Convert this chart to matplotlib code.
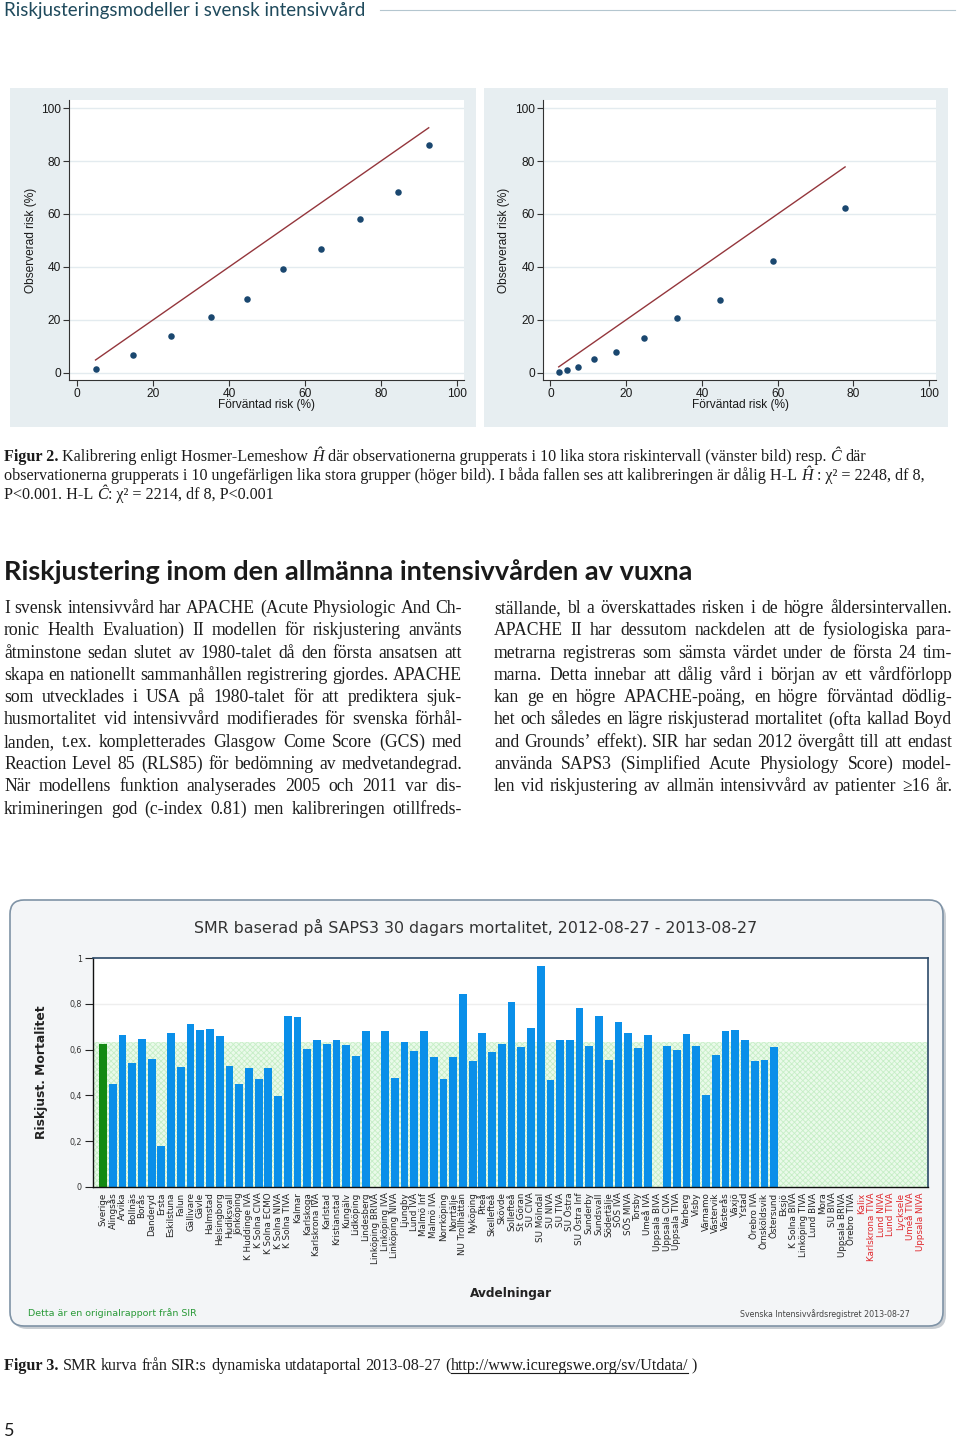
import matplotlib
matplotlib.use('Agg')
import matplotlib.pyplot as plt
from matplotlib.patches import FancyBboxPatch, Rectangle
import numpy as np

# ---------------- data ----------------
left_expected = [4.8, 14.7, 24.7, 35.3, 44.8, 54.1, 64.1, 74.6, 84.4, 92.6]
left_observed = [1.3, 6.6, 13.9, 21.1, 27.7, 39.1, 46.7, 58.1, 68.5, 85.9]
right_expected = [2.2, 4.4, 7.2, 11.5, 17.3, 24.7, 33.4, 44.7, 58.7, 77.8]
right_observed = [0.25, 0.9, 2.0, 5.0, 7.9, 13.1, 20.8, 27.5, 42.2, 62.3]
risk_ticks = [0, 20, 40, 60, 80, 100]

units = ["Sverige", "Alingsås", "Arvika", "Bollnäs", "Borås", "Danderyd", "Ersta",
         "Eskilstuna", "Falun", "Gällivare", "Gävle", "Halmstad", "Helsingborg",
         "Hudiksvall", "Jönköping", "K Huddinge IVA", "K Solna CIVA", "K Solna ECMO",
         "K Solna NIVA", "K Solna TIVA", "Kalmar", "Karlskoga", "Karlskrona IVA",
         "Karlstad", "Kristianstad", "Kungälv", "Lidköping", "Lindesberg",
         "Linköping BRIVA", "Linköping IVA", "Linköping NIVA", "Ljungby", "Lund IVA",
         "Malmö Inf", "Malmö IVA", "Norrköping", "Norrtälje", "NU Trollhättan",
         "Nyköping", "Piteå", "Skellefteå", "Skövde", "Sollefteå", "St Göran",
         "SU CIVA", "SU Mölndal", "SU NIVA", "SU TIVA", "SU Östra", "SU Östra Inf",
         "Sunderby", "Sundsvall", "Södertälje", "SÖS IVA", "SÖS MIVA", "Torsby",
         "Umeå IVA", "Uppsala BIVA", "Uppsala CIVA", "Uppsala TIVA", "Varberg",
         "Visby", "Värnamo", "Västervik", "Västerås", "Växjö", "Ystad", "Örebro IVA",
         "Örnsköldsvik", "Östersund", "Eksjö", "K Solna BIVA", "Linköping TIVA",
         "Lund BIVA", "Mora", "SU BIVA", "Uppsala BRIVA", "Örebro TIVA",
         "Kalix", "Karlskrona TIVA", "Lund NIVA", "Lund TIVA", "Lycksele",
         "Umeå TIVA", "Uppsala NIVA"]
smr = [0.623, 0.450, 0.665, 0.543, 0.648, 0.560, 0.178, 0.672, 0.525, 0.712,
       0.687, 0.691, 0.658, 0.530, 0.450, 0.518, 0.472, 0.521, 0.399, 0.745,
       0.741, 0.601, 0.641, 0.623, 0.641, 0.619, 0.572, 0.683, None, 0.683,
       0.475, 0.632, 0.594, 0.683, 0.568, 0.470, 0.568, 0.843, 0.550, 0.672,
       0.588, 0.626, 0.809, 0.611, 0.694, 0.965, 0.466, 0.641, 0.643, 0.783,
       0.614, 0.745, 0.555, 0.721, 0.672, 0.607, 0.664, None, 0.614, 0.598,
       0.668, 0.614, 0.402, 0.575, 0.680, 0.687, 0.641, 0.552, 0.555, 0.610,
       None, None, None, None, None, None, None, None,
       None, None, None, None, None, None, None]
red_units = ["Kalix", "Karlskrona TIVA", "Lund NIVA", "Lund TIVA", "Lycksele",
             "Umeå TIVA", "Uppsala NIVA"]
smr_ticks = [0, 0.2, 0.4, 0.6, 0.8, 1.0]
smr_ticklabels = ["0", "0,2", "0,4", "0,6", "0,8", "1"]
band_top = 0.633

# ---------------- texts ----------------
header = "Riskjusteringsmodeller i svensk intensivvård"
heading = "Riskjustering inom den allmänna intensivvården av vuxna"
caption2 = [
    [("Figur 2.", 'b', True), ("Kalibrering enligt Hosmer-Lemeshow", 'r', True), ("Ĥ", 'i', True),
     ("där observationerna grupperats i 10 lika stora riskintervall (vänster bild) resp.", 'r', True),
     ("Ĉ", 'i', True), ("där", 'r', True)],
    [("observationerna grupperats i 10 ungefärligen lika stora grupper (höger bild). I båda fallen ses att kalibreringen är dålig H-L", 'r', True),
     ("Ĥ", 'i', True), (": χ² = 2248, df 8,", 'r', True)],
    [("P<0.001. H-L", 'r', True), ("Ĉ", 'i', True), (": χ² = 2214, df 8, P<0.001", 'r', False)],
]
col_left = [
    "I svensk intensivvård har APACHE (Acute Physiologic And Ch-",
    "ronic Health Evaluation) II modellen för riskjustering använts",
    "åtminstone sedan slutet av 1980-talet då den första ansatsen att",
    "skapa en nationellt sammanhållen registrering gjordes. APACHE",
    "som utvecklades i USA på 1980-talet för att prediktera sjuk-",
    "husmortalitet vid intensivvård modifierades för svenska förhål-",
    "landen, t.ex. kompletterades Glasgow Come Score (GCS) med",
    "Reaction Level 85 (RLS85) för bedömning av medvetandegrad.",
    "När modellens funktion analyserades 2005 och 2011 var dis-",
    "krimineringen god (c-index 0.81) men kalibreringen otillfreds-",
]
col_right = [
    "ställande, bl a överskattades risken i de högre åldersintervallen.",
    "APACHE II har dessutom nackdelen att de fysiologiska para-",
    "metrarna registreras som sämsta värdet under de första 24 tim-",
    "marna. Detta innebar att dålig vård i början av ett vårdförlopp",
    "kan ge en högre APACHE-poäng, en högre förväntad dödlig-",
    "het och således en lägre riskjusterad mortalitet (ofta kallad Boyd",
    "and Grounds’ effekt). SIR har sedan 2012 övergått till att endast",
    "använda SAPS3 (Simplified Acute Physiology Score) model-",
    "len vid riskjustering av allmän intensivvård av patienter ≥16 år.",
]
caption3_pre = "SMR kurva från SIR:s dynamiska utdataportal 2013-08-27 ("
caption3_url = "http://www.icuregswe.org/sv/Utdata/"
caption3_post = " )"
smr_title = "SMR baserad på SAPS3 30 dagars mortalitet, 2012-08-27 - 2013-08-27"

# ---------------- figure ----------------
W, H = 960, 1438
plt.rcParams['hatch.linewidth'] = 0.6
fig = plt.figure(figsize=(W / 100, H / 100), dpi=100)
fig.patch.set_facecolor('white')
bg = fig.add_axes([0, 0, 1, 1], zorder=0)
bg.set_xlim(0, W)
bg.set_ylim(H, 0)
bg.axis('off')
renderer = fig.canvas.get_renderer()


def width_of(t):
    return t.get_window_extent(renderer=renderer).width


def fit_text(x, y, s, target, base=10.0, rotation=0, **kw):
    t = bg.text(x, y, s, fontsize=base, **kw)
    t.set_fontsize(base * target / width_of(t))
    t.set_rotation(rotation)
    return t


SERIF = 'Liberation Serif'


def skw(st):
    kw = dict(family=SERIF)
    if 'b' in st:
        kw['weight'] = 'bold'
    if 'i' in st:
        kw['style'] = 'italic'
    return kw


def tok_w(s, st, size):
    t = bg.text(0, 0, s, fontsize=size, **skw(st))
    w = width_of(t)
    t.remove()
    return w


def space_w(size):
    return tok_w('n n', 'r', size) - tok_w('nn', 'r', size)


def natural_width(tokens, size):
    ws = sum(tok_w(t, st, size) for t, st, sp in tokens)
    n = sum(1 for i, (t, st, sp) in enumerate(tokens) if i > 0 and sp)
    return ws + n * space_w(size)


def draw_tokens(x0, y, tokens, size, target=None, color='#1c1c1c'):
    widths = [tok_w(t, st, size) for t, st, sp in tokens]
    n_sp = sum(1 for i, (t, st, sp) in enumerate(tokens) if i > 0 and sp)
    gap = space_w(size)
    if target is not None and n_sp > 0:
        gap = (target - sum(widths)) / n_sp
    x = x0
    spans = []
    for i, ((t, st, sp), w) in enumerate(zip(tokens, widths)):
        if i > 0 and sp:
            x += gap
        bg.text(x, y, t, fontsize=size, va='baseline', ha='left', color=color, **skw(st))
        spans.append((x, x + w))
        x += w
    return spans


def words(line):
    return [(w, 'r', True) for w in line.split()]


# ---- page header ----
fit_text(4, 16, header, 362, family='Lato', color='#1f4a5c', va='baseline')
bg.plot([380, 955], [10, 10], color='#b4c6cf', lw=0.8)

# ---- Figure 2: calibration plots ----
def stata_panel(panel_x0, panel_x1, rect, xlim_, xs, ys, ylab_x, xlab_x):
    bg.add_patch(Rectangle((panel_x0, 88), panel_x1 - panel_x0, 427 - 88,
                           facecolor='#e7eef1', edgecolor='none'))
    l, t, r, b = rect
    ax = fig.add_axes([l / W, 1 - b / H, (r - l) / W, (b - t) / H])
    ax.set_facecolor('white')
    ax.set_xlim(*xlim_)
    ax.set_ylim(-2.76, 103.1)
    for yv in risk_ticks:
        ax.axhline(yv, color='#e3ebef', lw=1.0, zorder=0)
    ax.plot([min(xs), max(xs)], [min(xs), max(xs)], color='#94363c', lw=1.0, zorder=2)
    ax.scatter(xs, ys, s=22, color='#1a476f', zorder=3, linewidths=0)
    ax.set_xticks(risk_ticks)
    ax.set_yticks(risk_ticks)
    ax.tick_params(labelsize=8.6, length=4, width=0.8, color='#333333', labelcolor='#1a1a1a', pad=2)
    for lab in ax.get_xticklabels() + ax.get_yticklabels():
        lab.set_family('Liberation Sans')
    for s in ['top', 'right']:
        ax.spines[s].set_visible(False)
    for s in ['left', 'bottom']:
        ax.spines[s].set_color('#333333')
        ax.spines[s].set_linewidth(0.8)
    bg.text(ylab_x, 240, 'Observerad risk (%)', rotation=90, ha='center', va='center',
            fontsize=8.6, family='Liberation Sans', color='#1a1a1a')
    bg.text(xlab_x, 405, 'Förväntad risk (%)', ha='center', va='center',
            fontsize=8.6, family='Liberation Sans', color='#1a1a1a')
    return ax

stata_panel(10, 476, (69, 100, 464, 380), (-2.19, 101.9), left_expected, left_observed, 31, 267)
stata_panel(484, 948, (543, 100, 936, 380), (-1.95, 101.8), right_expected, right_observed, 504, 740)

# ---- Figure 2 caption ----
cap_size = 10.0 * 921 / natural_width(caption2[1], 10.0)
cap_y = [461, 480, 499]
for toks, yy in zip(caption2, cap_y):
    draw_tokens(4, yy, toks, cap_size)

# ---- Heading ----
fit_text(4, 580, heading, 690, family='Lato', weight='bold', color='#1a1a1a', va='baseline')

# ---- Body text (justified) ----
def para_size(lines, target):
    return min(10.0 * target / natural_width(words(l), 10.0) for l in lines)

body_size = min(para_size(col_left, 458), para_size(col_right, 458))
for i, line in enumerate(col_left):
    draw_tokens(4, 613 + i * 22.3, words(line), body_size, target=458)
for i, line in enumerate(col_right):
    draw_tokens(494, 613 + i * 22.3, words(line), body_size, target=458)

# ---- Figure 3: SMR bar chart panel ----
bg.add_patch(FancyBboxPatch((13, 903), 933, 426, boxstyle='round,pad=0,rounding_size=14',
                            facecolor='#c9ced3', edgecolor='none', zorder=0))
bg.add_patch(FancyBboxPatch((10, 900), 933, 426, boxstyle='round,pad=0,rounding_size=14',
                            facecolor='#f3f5f7', edgecolor='#7f93a6', lw=1.2, zorder=1))
fit_text(476, 927, smr_title, 564, family='DejaVu Sans', color='#333333', ha='center', va='center')

ax3 = fig.add_axes([93 / W, 1 - 1187 / H, (928 - 93) / W, (1187 - 958) / H], zorder=2)
ax3.set_facecolor('white')
idx = np.arange(len(units))
ax3.set_xlim(-1.03, 84.82)
ax3.set_ylim(0, 1)
ax3.axhline(0.8, color='#eeeeee', lw=1.0, zorder=0.2)
ax3.axhspan(0, band_top, facecolor='#eafaea', edgecolor='#c6eec6', hatch='xxxxxx', lw=0, zorder=0.5)
vals_idx = [i for i, v in enumerate(smr) if v is not None]
vals = [smr[i] for i in vals_idx]
cols = ['#138a13' if units[i] == 'Sverige' else '#0a8fe9' for i in vals_idx]
ax3.bar(vals_idx, vals, width=0.8, color=cols, zorder=2)
ax3.set_yticks(smr_ticks, labels=smr_ticklabels)
ax3.set_xticks(idx, labels=units, rotation=90, fontsize=6.3, family='DejaVu Sans')
ax3.set_xticks([19, 39, 59, 79], minor=True)
ax3.tick_params(axis='x', which='major', length=0, pad=4)
ax3.tick_params(axis='x', which='minor', length=4, width=0.8, color='#222222')
ax3.tick_params(axis='y', length=6, width=0.8, labelsize=5.8, color='#222222', labelcolor='#333333', pad=2)
for lab in ax3.get_xticklabels():
    lab.set_color('#e0262b' if lab.get_text() in red_units else '#222222')
for s in ['left', 'bottom']:
    ax3.spines[s].set_color('#111111')
    ax3.spines[s].set_linewidth(1.0)
for s in ['top', 'right']:
    ax3.spines[s].set_color('#2c4a69')
    ax3.spines[s].set_linewidth(1.2)

t = fit_text(42, 1072, 'Riskjust. Mortalitet', 135, family='DejaVu Sans', weight='bold',
             color='#222222', ha='center', va='center', rotation=90)
fit_text(511, 1293, 'Avdelningar', 82, family='DejaVu Sans', weight='bold',
         color='#222222', ha='center', va='center')
fit_text(28, 1313, 'Detta är en originalrapport från SIR', 168, family='DejaVu Sans',
         color='#2a9a38', ha='left', va='center')
fit_text(740, 1314, 'Svenska Intensivvårdsregistret 2013-08-27', 169, family='DejaVu Sans',
         color='#444444', ha='left', va='center')

# ---- Figure 3 caption ----
toks3 = [("Figur 3.", 'b', True)] + words(caption3_pre)
spans = draw_tokens(4, 1370, toks3 + [(caption3_url, 'r', False), (caption3_post, 'r', False)], cap_size)
ux0, ux1 = spans[len(toks3)]
bg.plot([ux0, ux1], [1372.5, 1372.5], color='#1c1c1c', lw=0.8)

# ---- page number ----
bg.text(4, 1436, '5', family='Lato', fontsize=13, color='#1c1c1c', va='baseline', ha='left')

fig.savefig('out.png', dpi=100, facecolor='white')
